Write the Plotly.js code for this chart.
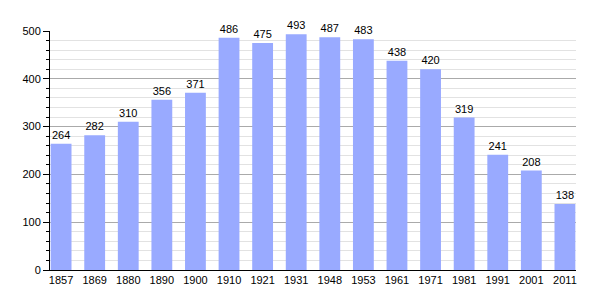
<!DOCTYPE html>
<html><head><meta charset="utf-8">
<script src="https://cdn.plot.ly/plotly-3.0.1.min.js"></script>
<style>body{margin:0;background:#fff}#c{width:605px;height:300px}</style>
</head><body><div id="c"></div>
<script>
const years = ["1857","1869","1880","1890","1900","1910","1921","1931","1948","1953","1961","1971","1981","1991","2001","2011"];
const population = [264,282,310,356,371,486,475,493,487,483,438,420,319,241,208,138];

Plotly.newPlot('c', [{
  type: 'bar',
  x: years,
  y: population,
  width: 0.62,
  marker: {color: '#99aaff'},
  text: population.map(String),
  textposition: 'outside',
  cliponaxis: false,
  textfont: {family: 'Liberation Sans, Arial, sans-serif', size: 11, color: '#000'},
  hoverinfo: 'none'
}], {
  width: 605, height: 300,
  margin: {l: 50, r: 29, t: 31, b: 30},
  paper_bgcolor: '#fff', plot_bgcolor: '#fff',
  showlegend: false,
  font: {family: 'Liberation Sans, Arial, sans-serif', size: 11, color: '#000'},
  xaxis: {
    type: 'category',
    range: [-0.33, 15.33],
    showline: true, linecolor: '#000', linewidth: 1,
    showgrid: false, ticks: '', tickfont: {size: 11},
    fixedrange: true
  },
  yaxis: {
    range: [0, 500],
    tickvals: [0,100,200,300,400,500],
    showline: true, linecolor: '#000', linewidth: 1,
    ticks: 'outside', ticklen: 6, tickcolor: '#000',
    showgrid: true, gridcolor: '#aaaaaa', gridwidth: 1,
    zeroline: false,
    minor: {dtick: 20, ticks: 'outside', ticklen: 3, tickcolor: '#000', showgrid: true, gridcolor: '#e2e2e2', gridwidth: 1},
    tickfont: {size: 11},
    fixedrange: true
  },
  bargap: 0.38
}, {staticPlot: true});
</script></body></html>
